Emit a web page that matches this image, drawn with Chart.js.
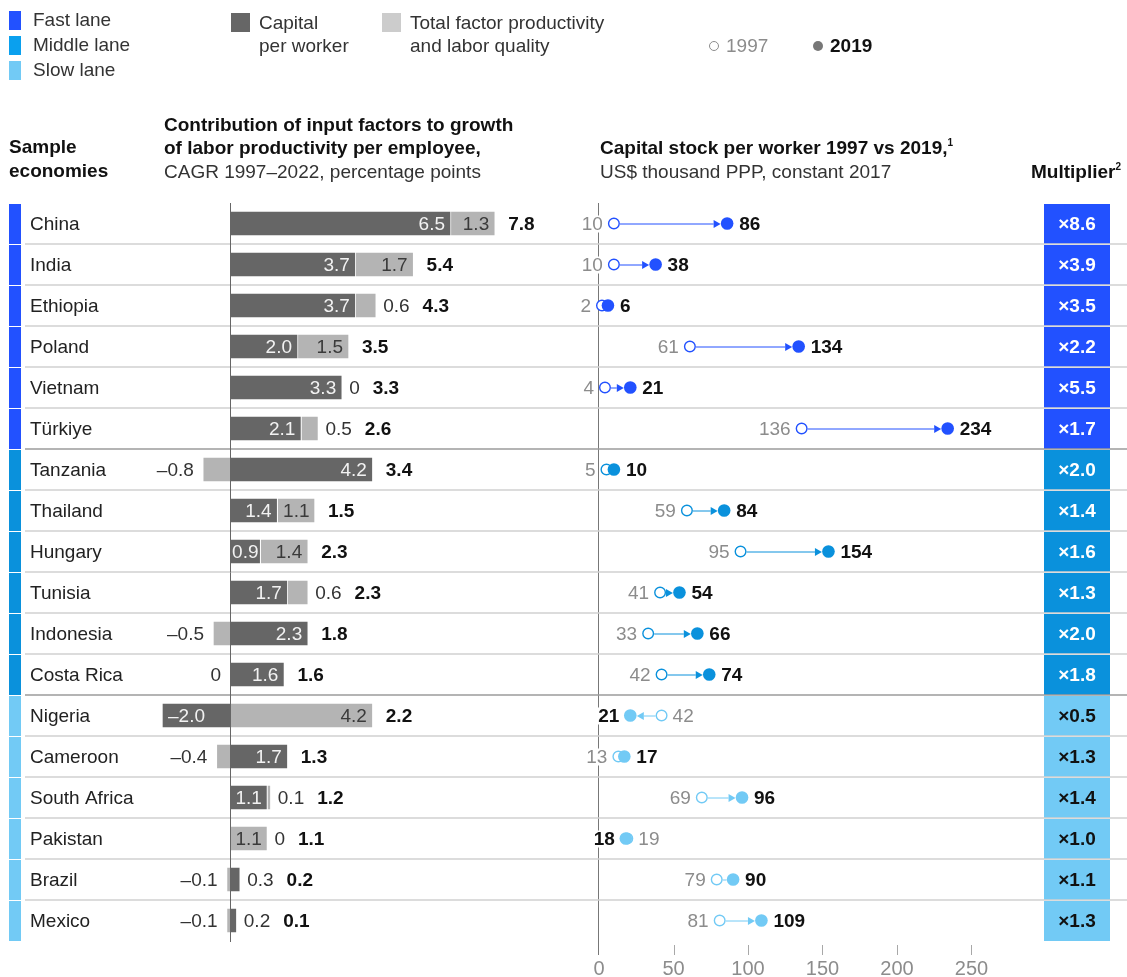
<!DOCTYPE html>
<html>
<head>
<meta charset="utf-8">
<script src="https://cdn.jsdelivr.net/npm/chart.js@4.4.1/dist/chart.umd.min.js"></script>
<style>
  body { margin: 0; background: #fff; font-family: "Liberation Sans", Arial, sans-serif; color: #222; }
  #wrap { position: relative; width: 1127px; height: 977px; overflow: hidden; }
  #chart { position: absolute; left: 0; top: 0; }
  .t { position: absolute; font-size: 19px; line-height: 24px; white-space: nowrap; color: #333; }
  .b { font-weight: bold; color: #111; }
  .sw { position: absolute; }
  .dot { display: inline-block; width: 10px; height: 10px; border-radius: 50%; vertical-align: 1px; margin-right: 7px; box-sizing: border-box; }
  sup { font-size: 10px; line-height: 0; vertical-align: 8px; }
</style>
</head>
<body>
<div id="wrap">
  <canvas id="chart" width="1127" height="977"></canvas>

  <div class="sw" style="left:9px;top:11px;width:12px;height:19px;background:#2251ff"></div>
  <div class="sw" style="left:9px;top:36px;width:12px;height:19px;background:#0aa0ee"></div>
  <div class="sw" style="left:9px;top:61px;width:12px;height:19px;background:#72caf5"></div>
  <div class="t" style="left:33px;top:8px">Fast lane</div>
  <div class="t" style="left:33px;top:33px">Middle lane</div>
  <div class="t" style="left:33px;top:58px">Slow lane</div>

  <div class="sw" style="left:231px;top:13px;width:19px;height:19px;background:#666"></div>
  <div class="t" style="left:259px;top:11px">Capital</div>
  <div class="t" style="left:259px;top:34px">per worker</div>
  <div class="sw" style="left:382px;top:13px;width:19px;height:19px;background:#cccccc"></div>
  <div class="t" style="left:410px;top:11px">Total factor productivity</div>
  <div class="t" style="left:410px;top:34px">and labor quality</div>

  <div class="t" style="left:709px;top:34px;color:#8c8c8c"><span class="dot" style="border:1.3px solid #8c8c8c"></span>1997</div>
  <div class="t b" style="left:813px;top:34px"><span class="dot" style="background:#777"></span>2019</div>

  <div class="t b" style="left:9px;top:135px">Sample</div>
  <div class="t b" style="left:9px;top:159px">economies</div>
  <div class="t b" style="left:164px;top:113px">Contribution of input factors to growth</div>
  <div class="t b" style="left:164px;top:136px">of labor productivity per employee,</div>
  <div class="t" style="left:164px;top:160px">CAGR 1997–2022, percentage points</div>
  <div class="t b" style="left:600px;top:136px">Capital stock per worker 1997 vs 2019,<sup>1</sup></div>
  <div class="t" style="left:600px;top:160px">US$ thousand PPP, constant 2017</div>
  <div class="t b" style="left:1031px;top:160px">Multiplier<sup>2</sup></div>
</div>

<script>
const countries = ['China', 'India', 'Ethiopia', 'Poland', 'Vietnam', 'Türkiye',
  'Tanzania', 'Thailand', 'Hungary', 'Tunisia', 'Indonesia', 'Costa Rica',
  'Nigeria', 'Cameroon', 'South Africa', 'Pakistan', 'Brazil', 'Mexico'];
const lanes = ['Fast', 'Fast', 'Fast', 'Fast', 'Fast', 'Fast',
  'Middle', 'Middle', 'Middle', 'Middle', 'Middle', 'Middle',
  'Slow', 'Slow', 'Slow', 'Slow', 'Slow', 'Slow'];

// percentage points, CAGR 1997-2022
const capitalPerWorker = [6.5, 3.7, 3.7, 2.0, 3.3, 2.1, 4.2, 1.4, 0.9, 1.7, 2.3, 1.6, -2.0, 1.7, 1.1, 0, 0.3, 0.2];
// Costa Rica is a negative zero (shown left of the axis)
const tfpLaborQuality = [1.3, 1.7, 0.6, 1.5, 0, 0.5, -0.8, 1.1, 1.4, 0.6, -0.5, -0, 4.2, -0.4, 0.1, 1.1, -0.1, -0.1];
const totals = [7.8, 5.4, 4.3, 3.5, 3.3, 2.6, 3.4, 1.5, 2.3, 2.3, 1.8, 1.6, 2.2, 1.3, 1.2, 1.1, 0.2, 0.1];

// US$ thousand PPP, constant 2017
const capital1997 = [10, 10, 2, 61, 4, 136, 5, 59, 95, 41, 33, 42, 42, 13, 69, 19, 79, 81];
const capital2019 = [86, 38, 6, 134, 21, 234, 10, 84, 154, 54, 66, 74, 21, 17, 96, 18, 90, 109];
const multipliers = [8.6, 3.9, 3.5, 2.2, 5.5, 1.7, 2.0, 1.4, 1.6, 1.3, 2.0, 1.8, 0.5, 1.3, 1.4, 1.0, 1.1, 1.3];
const capTicks = [0, 50, 100, 150, 200, 250];

const laneColors = { Fast: '#2251ff', Middle: '#0a91dc', Slow: '#72caf5' };
const FONT = '"Liberation Sans", Arial, sans-serif';

// both x scales share the chart area, so pick min/max that put zero where wanted
const AREA_LEFT = 25, AREA_RIGHT = 1127;
function span(zeroPx, pxPerUnit) {
  return { min: (AREA_LEFT - zeroPx) / pxPerUnit, max: (AREA_RIGHT - zeroPx) / pxPerUnit };
}
const barSpan = span(230, 34);
const capSpan = span(599, 1.49);

function fmt(v) {
  if (v === 0) return '0';
  return (v < 0 ? '–' : '') + Math.abs(v).toFixed(1);
}

const rowsPlugin = {
  id: 'rows',
  beforeDatasetsDraw(chart) {
    const { ctx, chartArea, scales } = chart;
    const y = scales.y, cap = scales.cap;
    const band = y.getPixelForValue(1) - y.getPixelForValue(0);
    ctx.save();

    // short tick marks under the capital axis (zero has the full grid line)
    ctx.strokeStyle = '#a8a8a8';
    ctx.lineWidth = 1;
    capTicks.filter(v => v !== 0).forEach(v => {
      const px = Math.round(cap.getPixelForValue(v)) + 0.5;
      ctx.beginPath();
      ctx.moveTo(px, chartArea.bottom + 4);
      ctx.lineTo(px, chartArea.bottom + 14);
      ctx.stroke();
    });

    countries.forEach((name, i) => {
      const cy = y.getPixelForValue(i);
      const top = cy - band / 2;
      const color = laneColors[lanes[i]];

      if (i > 0) {
        ctx.strokeStyle = lanes[i] !== lanes[i - 1] ? '#9b9b9b' : '#d0d0d0';
        ctx.lineWidth = 1.5;
        ctx.beginPath();
        ctx.moveTo(AREA_LEFT, top);
        ctx.lineTo(chart.width, top);
        ctx.stroke();
      }

      ctx.fillStyle = color;
      ctx.fillRect(9, top + 1, 12, band - 1);
      ctx.fillRect(1044, top + 1, 66, band - 1);

      ctx.font = '19px ' + FONT;
      ctx.textBaseline = 'middle';
      ctx.textAlign = 'left';
      ctx.fillStyle = '#222';
      ctx.fillText(name, 30, cy + 1);

      ctx.font = 'bold 19px ' + FONT;
      ctx.textAlign = 'center';
      ctx.fillStyle = lanes[i] === 'Slow' ? '#111' : '#fff';
      ctx.fillText('×' + multipliers[i].toFixed(1), 1077, cy + 1);

      // arrow from 1997 to 2019
      const a = cap.getPixelForValue(capital1997[i]);
      const b = cap.getPixelForValue(capital2019[i]);
      const dir = Math.sign(b - a);
      const start = a + dir * 6, end = b - dir * 6.5;
      const gap = (end - start) * dir;
      if (gap > 1) {
        ctx.strokeStyle = color;
        ctx.fillStyle = color;
        ctx.lineWidth = 1;
        const head = 7;
        const lineEnd = gap > head + 1 ? end - dir * head : end;
        if (gap > head + 1 || gap <= 6) {
          ctx.beginPath();
          ctx.moveTo(start, cy + 0.5);
          ctx.lineTo(lineEnd, cy + 0.5);
          ctx.stroke();
        }
        if (gap > 6) {
          ctx.beginPath();
          ctx.moveTo(end, cy + 0.5);
          ctx.lineTo(end - dir * head, cy - 3.5);
          ctx.lineTo(end - dir * head, cy + 4.5);
          ctx.closePath();
          ctx.fill();
        }
      }
    });
    ctx.restore();
  },
  afterDatasetsDraw(chart) {
    const { ctx, chartArea, scales } = chart;
    const x = scales.x, y = scales.y, cap = scales.cap;
    const zero = x.getPixelForValue(0);
    ctx.save();

    ctx.strokeStyle = '#666';
    ctx.lineWidth = 1;
    ctx.beginPath();
    ctx.moveTo(Math.round(zero) + 0.5, chartArea.top);
    ctx.lineTo(Math.round(zero) + 0.5, chartArea.bottom + 1);
    ctx.stroke();

    ctx.textBaseline = 'middle';
    countries.forEach((name, i) => {
      const cy = y.getPixelForValue(i);
      const parts = [
        { v: capitalPerWorker[i], el: chart.getDatasetMeta(0).data[i], ink: '#f2f2f2' },
        { v: tfpLaborQuality[i], el: chart.getDatasetMeta(1).data[i], ink: '#3a3a3a' }
      ];
      let right = zero, left = zero;
      parts.forEach(p => {
        if (p.v === 0) return;
        const { x: end, base } = p.el.getProps(['x', 'base'], true);
        p.end = end; p.base = base;
        right = Math.max(right, end);
        left = Math.min(left, end);
      });

      ctx.font = '19px ' + FONT;
      parts.forEach(p => {
        const txt = fmt(p.v);
        const w = ctx.measureText(txt).width;
        const size = p.v === 0 ? 0 : Math.abs(p.end - p.base);
        if (size >= w + 3) {
          const pad = Math.min(6, (size - w) / 2);
          ctx.fillStyle = p.ink;
          if (p.v > 0) {
            ctx.textAlign = 'right';
            ctx.fillText(txt, p.end - pad, cy + 1);
          } else {
            ctx.textAlign = 'left';
            ctx.fillText(txt, p.end + pad, cy + 1);
          }
        } else {
          ctx.fillStyle = '#333';
          if (p.v > 0 || Object.is(p.v, 0)) {
            ctx.textAlign = 'left';
            ctx.fillText(txt, right + 7, cy + 1);
            right += w + 7;
          } else {
            ctx.textAlign = 'right';
            ctx.fillText(txt, left - 9, cy + 1);
            left -= w + 9;
          }
        }
      });

      ctx.font = 'bold 19px ' + FONT;
      ctx.textAlign = 'left';
      ctx.fillStyle = '#111';
      ctx.fillText(totals[i].toFixed(1), right + 13, cy + 1);

      // capital stock values beside the dots
      const a = cap.getPixelForValue(capital1997[i]);
      const b = cap.getPixelForValue(capital2019[i]);
      const up = capital2019[i] >= capital1997[i];
      const old = String(capital1997[i]), now = String(capital2019[i]);

      ctx.font = '19px ' + FONT;
      const wOld = ctx.measureText(old).width;
      const oldX = up ? a - 11 - wOld : a + 11;
      ctx.fillStyle = '#fff';
      ctx.fillRect(oldX - 1, cy - 8, wOld + 2, 17);
      ctx.fillStyle = '#8c8c8c';
      ctx.textAlign = 'left';
      ctx.fillText(old, oldX, cy + 1);

      ctx.font = 'bold 19px ' + FONT;
      const wNow = ctx.measureText(now).width;
      const nowX = up ? b + 12 : b - 11 - wNow;
      ctx.fillStyle = '#fff';
      ctx.fillRect(nowX - 1, cy - 8, wNow + 2, 17);
      ctx.fillStyle = '#111';
      ctx.fillText(now, nowX, cy + 1);
    });
    ctx.restore();
  }
};

const pointColors = lanes.map(l => laneColors[l]);

new Chart(document.getElementById('chart').getContext('2d'), {
  type: 'bar',
  data: {
    labels: countries,
    datasets: [
      {
        type: 'bar',
        label: 'Capital per worker',
        xAxisID: 'x',
        yAxisID: 'y',
        stack: 'factors',
        data: capitalPerWorker.map(v => v === 0 ? null : v),
        backgroundColor: '#666666',
        borderColor: '#ffffff',
        borderWidth: 1,
        borderSkipped: 'start',
        barThickness: 25
      },
      {
        type: 'bar',
        label: 'Total factor productivity and labor quality',
        xAxisID: 'x',
        yAxisID: 'y',
        stack: 'factors',
        data: tfpLaborQuality.map(v => v === 0 ? null : v),
        backgroundColor: '#b4b4b4',
        borderColor: '#ffffff',
        borderWidth: 1,
        borderSkipped: 'start',
        barThickness: 25
      },
      {
        type: 'scatter',
        label: '2019',
        xAxisID: 'cap',
        yAxisID: 'y',
        data: countries.map((c, i) => ({ x: capital2019[i], y: c })),
        pointRadius: 6.3,
        pointBorderWidth: 0,
        pointBackgroundColor: pointColors
      },
      {
        type: 'scatter',
        label: '1997',
        xAxisID: 'cap',
        yAxisID: 'y',
        data: countries.map((c, i) => ({ x: capital1997[i], y: c })),
        pointRadius: 5.3,
        pointBorderWidth: 1.4,
        pointBorderColor: pointColors,
        pointBackgroundColor: '#ffffff'
      }
    ]
  },
  options: {
    indexAxis: 'y',
    responsive: false,
    devicePixelRatio: 1,
    animation: false,
    events: [],
    layout: { autoPadding: false, padding: { left: AREA_LEFT, right: 0, top: 203, bottom: 0 } },
    plugins: { legend: { display: false }, tooltip: { enabled: false } },
    scales: {
      y: {
        type: 'category',
        labels: countries,
        offset: true,
        stacked: true,
        display: false
      },
      x: {
        type: 'linear',
        stacked: true,
        offset: false,
        min: barSpan.min,
        max: barSpan.max,
        display: false
      },
      cap: {
        type: 'linear',
        axis: 'x',
        position: 'bottom',
        stacked: false,
        offset: false,
        min: capSpan.min,
        max: capSpan.max,
        afterBuildTicks: s => { s.ticks = capTicks.map(v => ({ value: v })); },
        afterFit: s => { s.height = 36; s.paddingLeft = 0; s.paddingRight = 0; },
        border: { display: false },
        grid: {
          offset: false,
          drawOnChartArea: true,
          color: c => (c.tick && c.tick.value === 0) ? '#777' : 'rgba(0,0,0,0)',
          tickColor: c => (c.tick && c.tick.value === 0) ? '#777' : 'rgba(0,0,0,0)',
          tickLength: 14,
          lineWidth: 1
        },
        ticks: {
          color: '#8c8c8c',
          font: { size: 20, family: FONT },
          padding: 2,
          maxRotation: 0,
          autoSkip: false
        }
      }
    }
  },
  plugins: [rowsPlugin]
});
</script>
</body>
</html>
